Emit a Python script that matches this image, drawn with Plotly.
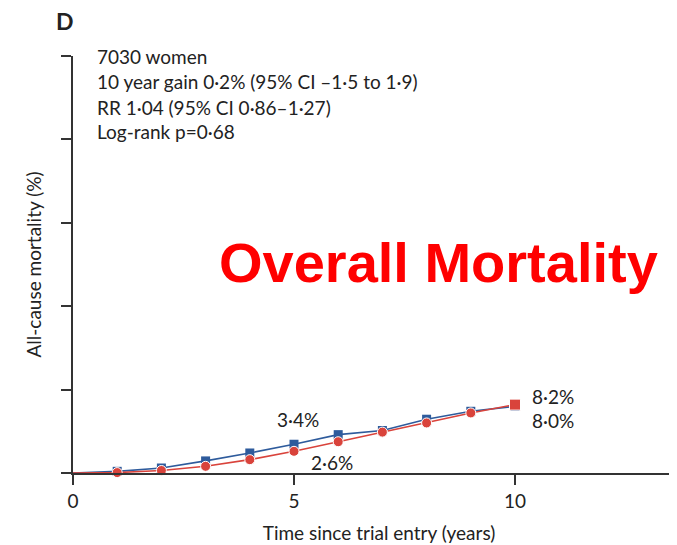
import plotly.graph_objects as go

years = [0, 1, 2, 3, 4, 5, 6, 7, 8, 9, 10]
blue_mortality = [0, 0.2, 0.6, 1.45, 2.4, 3.45, 4.6, 5.1, 6.45, 7.4, 8.0]
red_mortality = [0, 0.05, 0.3, 0.8, 1.6, 2.6, 3.75, 4.9, 6.0, 7.2, 8.2]
x_ticks = [0, 5, 10]
y_ticks = [0, 10, 20, 30, 40, 50]
info_lines = ["7030 women", "10 year gain 0·2% (95% CI –1·5 to 1·9)",
              "RR 1·04 (95% CI 0·86–1·27)", "Log-rank p=0·68"]

BLUE = "#2e5b9c"
RED = "#d9433b"
FONT = "Lato"
TXT = "#222222"
FS = 19

fig = go.Figure()
fig.add_trace(go.Scatter(x=years, y=blue_mortality, mode="lines+markers",
                         line=dict(color=BLUE, width=1.6),
                         marker=dict(symbol="square", size=9, color=BLUE,
                                     opacity=[0] + [1] * 10),
                         cliponaxis=False, showlegend=False))
fig.add_trace(go.Scatter(x=years, y=red_mortality, mode="lines+markers",
                         line=dict(color=RED, width=1.6),
                         marker=dict(symbol=["circle"] * 10 + ["square"], size=[10] * 10 + [11], color=RED,
                                     opacity=[0] + [1] * 10),
                         cliponaxis=False, showlegend=False))

# page body adds an 8px offset; positions below are in screenshot pixels
OFF = 8
W, H = 677, 545
L, R, T, B = 73 - OFF, 0, 56 - OFF, 72 + OFF
plot_w = W - L - R
px_per_year = 44.2
x_max = plot_w / px_per_year

def px(x):
    return (x - OFF - L) / plot_w

def py(y):
    return (H - B - (y - OFF)) / (H - T - B)

ann = []
for i, line in enumerate(info_lines):
    ann.append(dict(x=px(95), y=py(57 + i * 25), xref="paper", yref="paper", text=line,
                    showarrow=False, xanchor="left", yanchor="middle",
                    font=dict(family=FONT, size=FS, color=TXT)))
ann.append(dict(x=px(54), y=py(21), xref="paper", yref="paper", text="<b>D</b>",
                showarrow=False, xanchor="left", yanchor="middle",
                font=dict(family=FONT, size=23, color=TXT)))
ann.append(dict(x=px(438), y=py(262), xref="paper", yref="paper", text="<b>Overall Mortality</b>",
                showarrow=False, xanchor="center", yanchor="middle",
                font=dict(family="Liberation Sans", size=56, color="#ff0000")))
# value labels
ann.append(dict(x=5.09, y=6.4, xref="x", yref="y", text="3·4%", showarrow=False,
                font=dict(family=FONT, size=FS, color=TXT)))
ann.append(dict(x=5.86, y=1.3, xref="x", yref="y", text="2·6%", showarrow=False,
                font=dict(family=FONT, size=FS, color=TXT)))
ann.append(dict(x=10.34, y=9.2, xref="x", yref="y", text="8·2%", showarrow=False, xanchor="left",
                font=dict(family=FONT, size=FS, color=TXT)))
ann.append(dict(x=10.34, y=6.35, xref="x", yref="y", text="8·0%", showarrow=False, xanchor="left",
                font=dict(family=FONT, size=FS, color=TXT)))

fig.update_layout(
    width=W, height=H,
    margin=dict(l=L, r=R, t=T, b=B, pad=0),
    paper_bgcolor="white", plot_bgcolor="white",
    font=dict(family=FONT, size=FS, color=TXT),
    annotations=ann,
    xaxis=dict(range=[0, x_max], tickvals=x_ticks, ticktext=[str(v) for v in x_ticks],
               showgrid=False, zeroline=False, showline=True, linecolor="#333333", linewidth=1.5,
               ticks="outside", ticklen=10, tickwidth=1.5, tickcolor="#333333",
               tickfont=dict(family=FONT, size=FS, color=TXT),
               title=dict(text="Time since trial entry (years)", standoff=16,
                          font=dict(family=FONT, size=FS, color=TXT))),
    yaxis=dict(range=[0, 50], tickvals=y_ticks, showticklabels=False,
               showgrid=False, zeroline=False, showline=True, linecolor="#333333", linewidth=1.5,
               ticks="outside", ticklen=10, tickwidth=1.5, tickcolor="#333333",
               title=dict(text="All-cause mortality (%)", standoff=15,
                          font=dict(family=FONT, size=FS, color=TXT))),
)

fig.write_html("out.html")
